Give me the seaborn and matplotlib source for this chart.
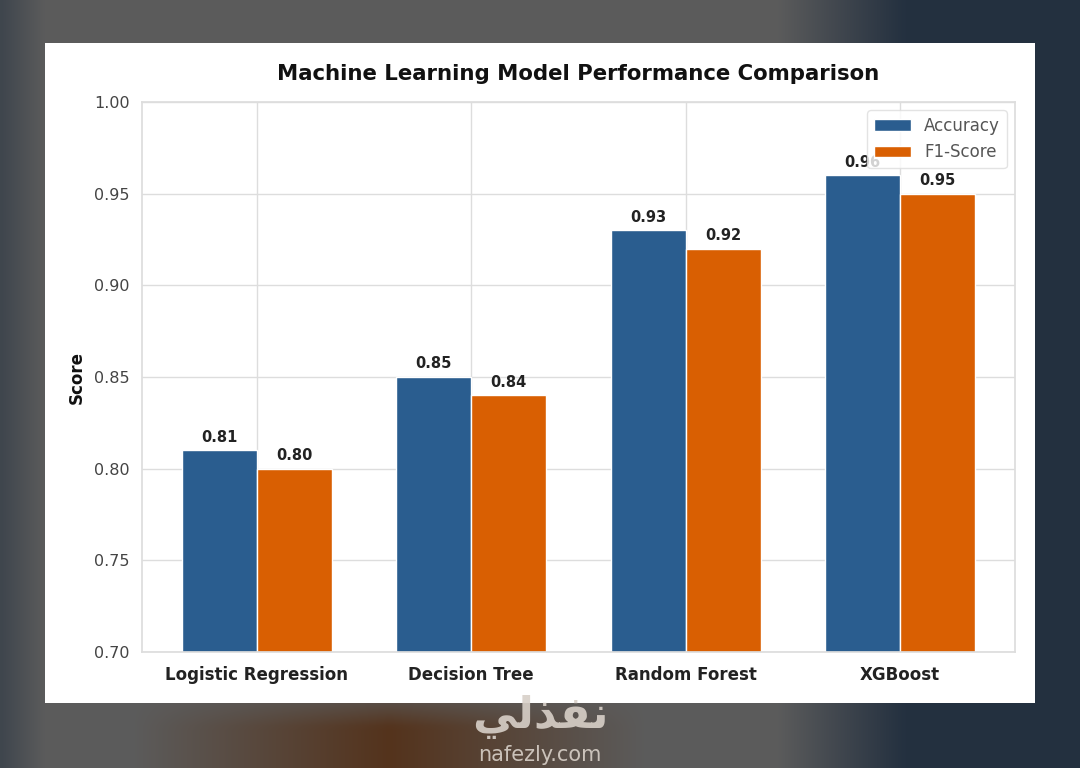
import numpy as np
import pandas as pd
import matplotlib
matplotlib.use("Agg")
import matplotlib.pyplot as plt
import seaborn as sns
from matplotlib.patches import Rectangle

models = ["Logistic Regression", "Decision Tree", "Random Forest", "XGBoost"]
accuracy = [0.81, 0.85, 0.93, 0.96]
f1_score = [0.80, 0.84, 0.92, 0.95]
metric_names = ["Accuracy", "F1-Score"]
y_ticks = [0.70, 0.75, 0.80, 0.85, 0.90, 0.95, 1.00]

df = pd.DataFrame({
    "Model": models * 2,
    "Score": accuracy + f1_score,
    "Metric": [metric_names[0]] * len(models) + [metric_names[1]] * len(models),
})

sns.set_theme(style="whitegrid")
plt.rcParams["font.family"] = ["DejaVu Sans"]

fig = plt.figure(figsize=(10.8, 7.68), dpi=100)

# blurred photo-like backdrop
bg = fig.add_axes([0, 0, 1, 1], zorder=-10)
W, H = 216, 154
xs = np.linspace(0, 1, W)
ys = np.linspace(0, 1, H)
X, Y = np.meshgrid(xs, ys)
gray = np.array([0.36, 0.36, 0.36])
navy = np.array([0.14, 0.19, 0.25])
brown = np.array([0.33, 0.20, 0.11])
t = np.clip((X - 0.72) / 0.12, 0, 1)[..., None]
img = gray * (1 - t) + navy * t
b = (np.clip((Y - 0.90) / 0.05, 0, 1) * np.clip(1 - np.abs(X - 0.36) / 0.24, 0, 1))[..., None]
img = img * (1 - b) + brown * b
edge = np.clip((0.04 - X) / 0.04, 0, 1)[..., None] * 0.5
img = img * (1 - edge) + navy * edge
bg.imshow(img, extent=[0, 1, 0, 1], aspect="auto", origin="upper", interpolation="bilinear")
bg.set_axis_off()

fig.patches.append(Rectangle((45 / 1080, 1 - 703 / 768), 990 / 1080, 660 / 768,
                             transform=fig.transFigure, facecolor="white",
                             edgecolor="none", zorder=-5))

ax = fig.add_axes([142 / 1080, 1 - 652 / 768, 873 / 1080, 550 / 768])
ax.set_facecolor("white")

sns.barplot(data=df, x="Model", y="Score", hue="Metric",
            palette=["#2a5d8f", "#d95f02"], saturation=1, width=0.7,
            edgecolor="white", linewidth=1, ax=ax)

for cont in ax.containers:
    for bar in cont:
        h = bar.get_height()
        ax.annotate(f"{h:.2f}", (bar.get_x() + bar.get_width() / 2, h),
                    xytext=(0, 4), textcoords="offset points",
                    ha="center", va="bottom", fontsize=10.5,
                    fontweight="bold", color="#222222", zorder=3)

ax.set_ylim(0.70, 1.00)
ax.set_yticks(y_ticks)
ax.set_yticklabels([f"{v:.2f}" for v in y_ticks])
ax.set_xlim(-0.536, 3.536)
ax.grid(True, axis="both", color="#dddddd", linewidth=1)
ax.set_axisbelow(True)
ax.tick_params(axis="y", labelsize=11.5, labelcolor="#444444", pad=3)
ax.tick_params(axis="x", labelsize=12, labelcolor="#222222", pad=4)
for lbl in ax.get_xticklabels():
    lbl.set_fontweight("bold")
ax.set_xlabel("")
ax.set_ylabel("Score", fontsize=12, fontweight="bold", color="#111111", labelpad=6)
ax.set_title("Machine Learning Model Performance Comparison",
             fontsize=15.3, fontweight="bold", color="#111111", pad=16)
for s in ax.spines.values():
    s.set_color("#dddddd")

leg = ax.legend(loc="upper right", fontsize=12, frameon=True,
                borderaxespad=0.5, handlelength=2.2, labelspacing=0.5)
leg.set_title(None)
leg.get_frame().set_edgecolor("#dddddd")
for txt in leg.get_texts():
    txt.set_color("#555555")

# watermark
arabic = "\uFEF2\uFEDF\uFEAC\uFED4\uFEE7"
fig.text(540 / 1080, 1 - 717 / 768, arabic, ha="center", va="center",
         fontsize=32, fontweight="bold", color="#d8d0c8", alpha=0.9)
fig.text(540 / 1080, 1 - 755 / 768, "nafezly.com", ha="center", va="center",
         fontsize=15, color="#d8d0c8", alpha=0.9)

fig.savefig("out.png", dpi=100)
